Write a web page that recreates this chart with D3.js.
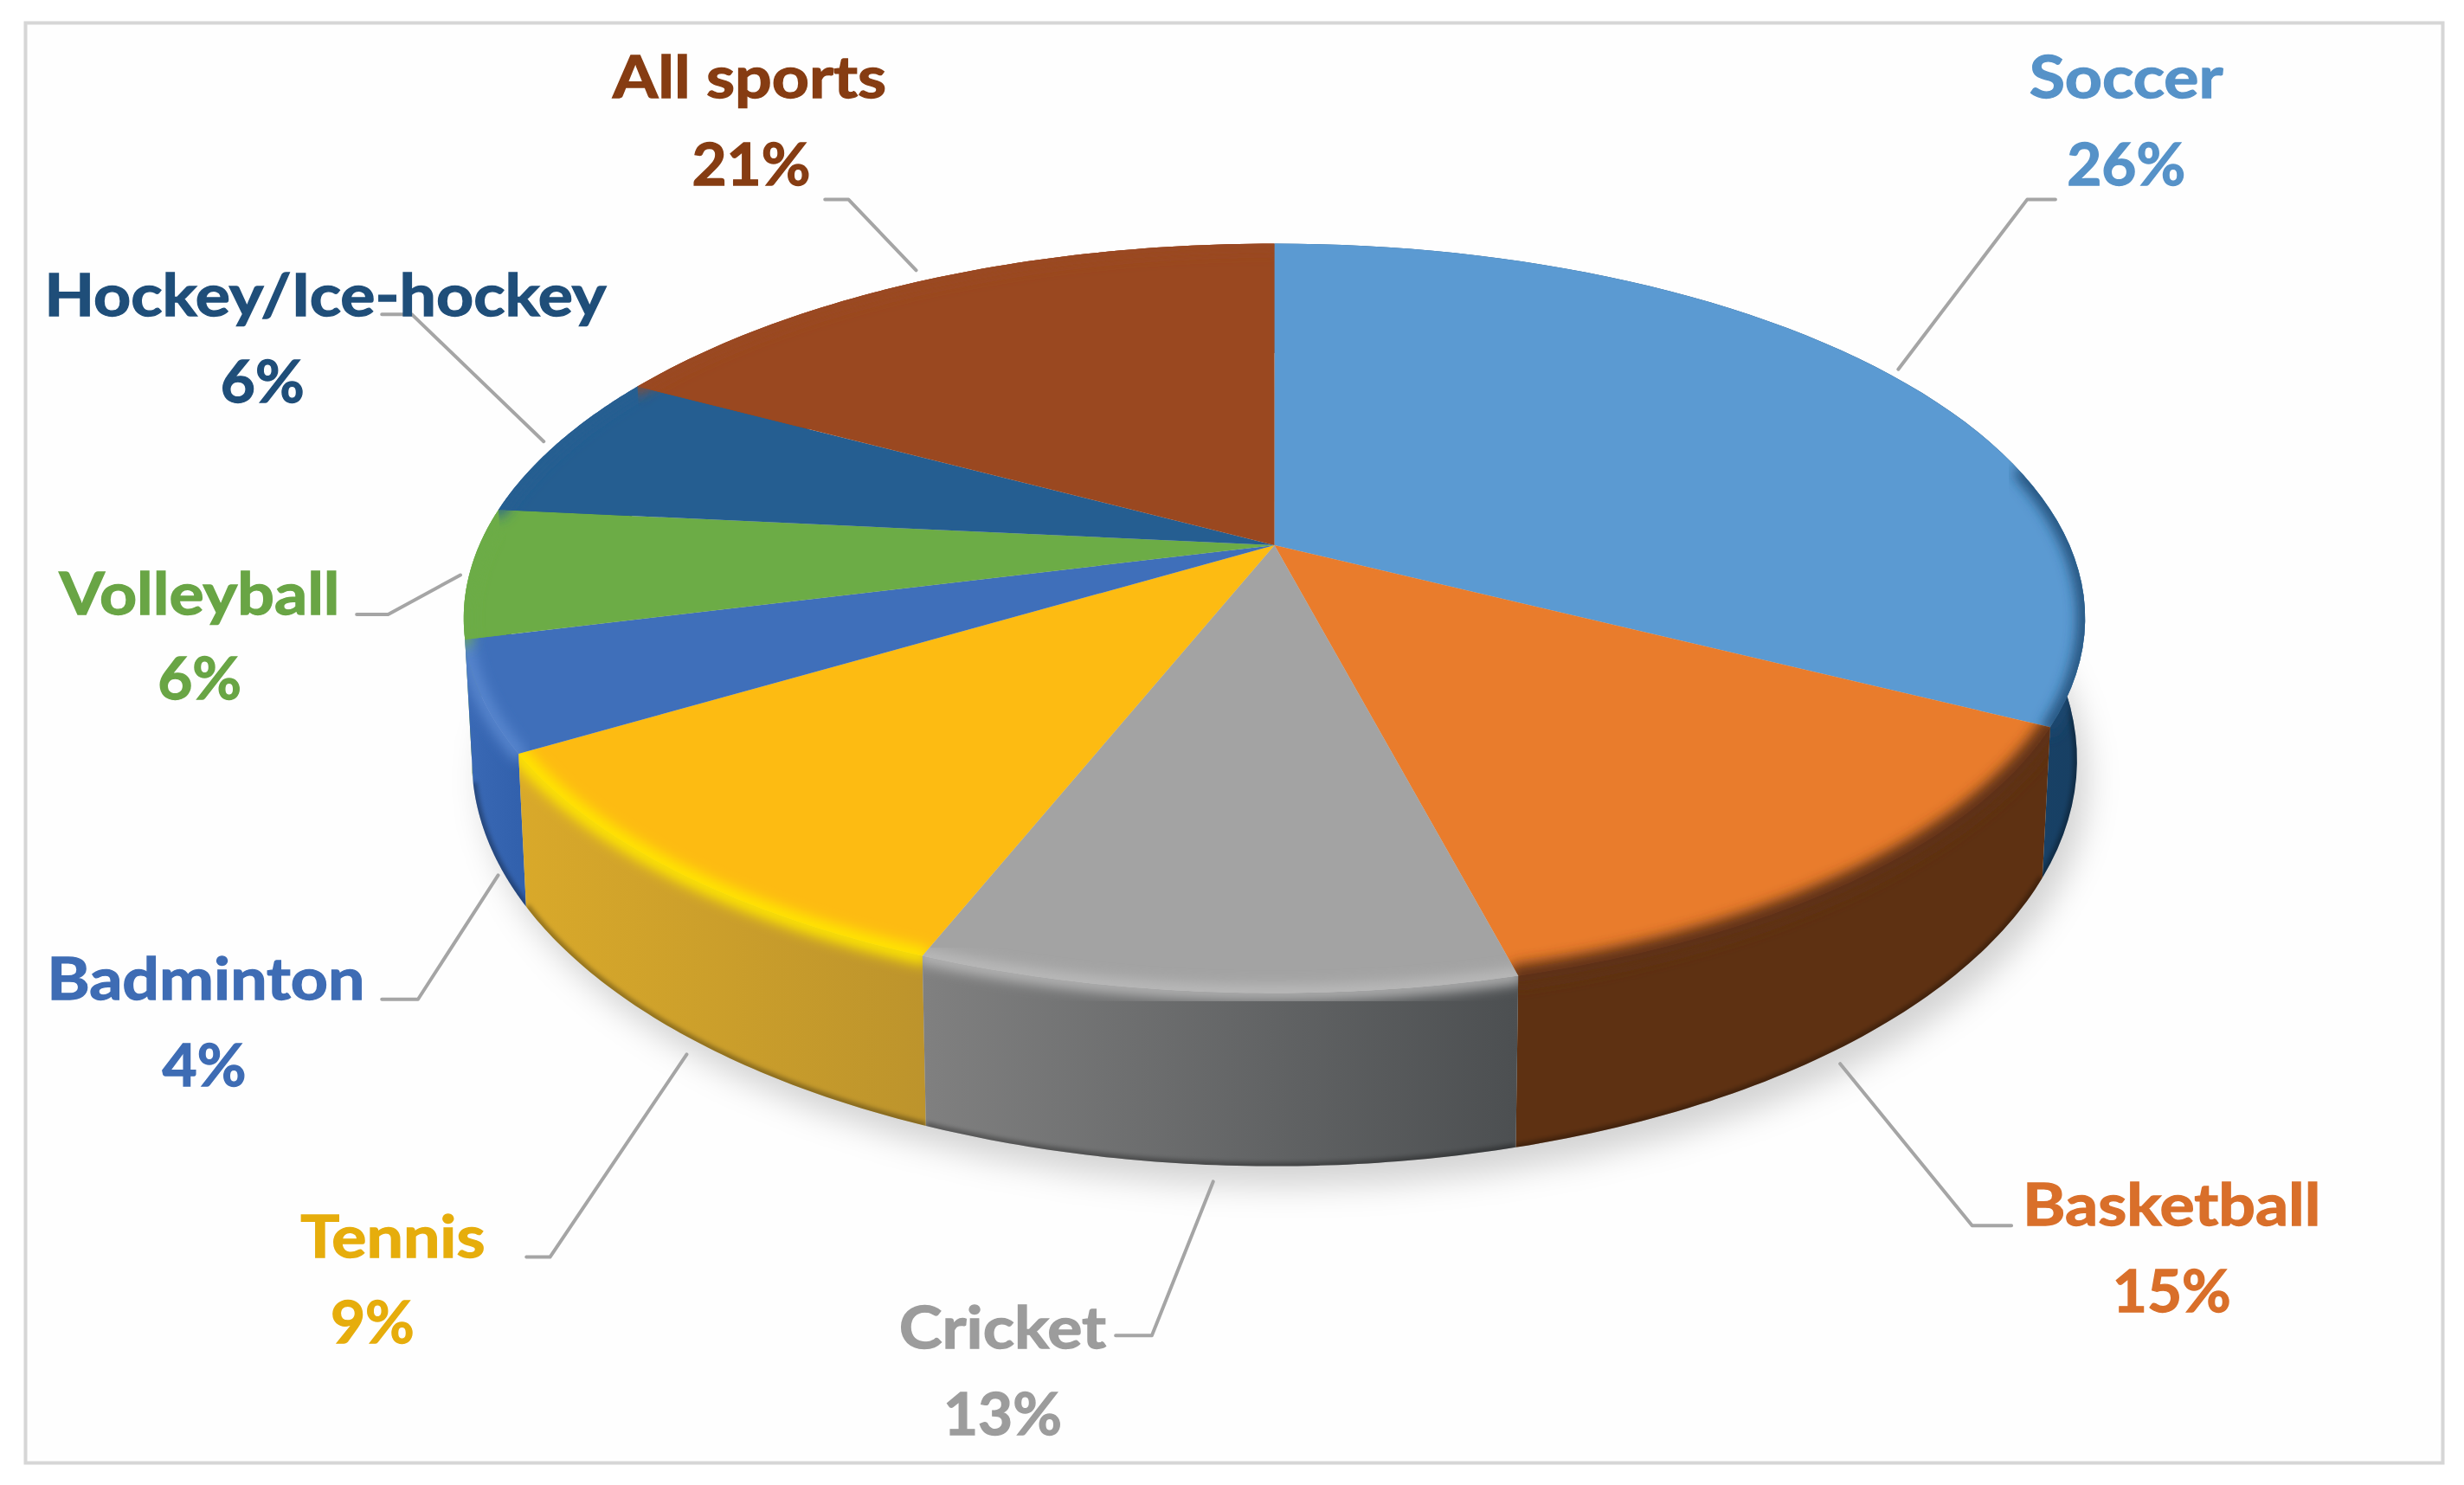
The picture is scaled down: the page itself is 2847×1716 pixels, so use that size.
<!DOCTYPE html>
<html>
<head>
<meta charset="utf-8">
<script src="https://cdn.jsdelivr.net/npm/d3@7"></script>
<style>
  html, body { margin: 0; padding: 0; background: #fff; }
  svg { display: block; }
  text { font-family: Lato, "Open Sans", sans-serif; font-weight: 700; text-anchor: middle; }
</style>
</head>
<body>
<div id="chart"></div>
<script>
var categories = ["Soccer", "Basketball", "Cricket", "Tennis", "Badminton", "Volleyball", "Hockey/Ice-hockey", "All sports"];
// printed labels
var percentLabels = [26, 15, 13, 9, 4, 6, 6, 21];
// share of the circle each slice really covers in the picture (differs from the printed labels)
var drawnShares = [32.6, 13.4, 9.9, 10.4, 4.7, 5.6, 6.4, 17.0];

var topColors = ["#5b9ad2", "#e97c2c", "#a3a3a3", "#fdbb12", "#3f6fba", "#6cac46", "#255e91", "#9a4820"];
var wallLeft = ["#2a5f8f", "#5e3112", "#808080", "#d9a92a", "#3a69b5", "#6cac46", "#255e91", "#9a4820"];
var wallRight = ["#173f63", "#5e3112", "#4c4f51", "#bd942c", "#3261ad", "#6cac46", "#255e91", "#9a4820"];
var rimColors = ["#1d4a72", "#5e3112", "#bcbcbc", "#ffe600", "#5a88d0", "#6cac46", "#255e91", "#9a4820"];
var rimWidths = [9, 14, 9, 11, 9, 9, 9, 9];
var textColors = ["#5692c8", "#d96f2a", "#9c9c9c", "#e6ad0c", "#3e6cb4", "#69a545", "#1f4e79", "#863c12"];

// label layout in the 1568-wide space of the picture
var nameAnchors = [[1353, 62], [1382, 780], [638, 858], [250, 800], [131, 636], [127, 391], [207, 201], [477, 62]];
var valueAnchors = [[1353, 118], [1382, 835], [638, 913], [237, 855], [130, 691], [127, 445], [167, 256], [478, 118]];
var leaders = [
  [[1308, 127], [1290, 127], [1208, 235]],
  [[1280, 780], [1255, 780], [1171, 677]],
  [[710, 850], [733, 850], [772, 752]],
  [[335, 800], [350, 800], [437, 671]],
  [[243, 636], [266, 636], [317, 557]],
  [[227, 391], [247, 391], [293, 366]],
  [[243, 200], [262, 200], [346, 281]],
  [[525, 127], [540, 127], [583, 172]]
];

var oal = 2847, tall = 1716, unit = oal / 1568;

// tilted disc: homography that maps the unit circle to the perspective ellipse
var cx = 811, cy = 347, tilt = 0.195, ax = 506, ay = 229.4;
// no rounded edge on the far side of the disc
var rimFrom = 78 * Math.PI / 180;

function project(angle, r, sx, sy, dy) {
  var u = Math.sin(angle) * r, v = -Math.cos(angle) * r, w = 1 - tilt * v;
  return [cx + sx * ax * u / w, cy + sy * ay * v / w + dy];
}
function topPoint(a, r) { return project(a, r === undefined ? 1 : r, 1, 1, 0); }
function floorPoint(a) { return project(a, 1, 0.99, 1.085, 86); }

function arcAngles(a0, a1) {
  return d3.range(0, 61).map(function (i) { return a0 + (a1 - a0) * i / 60; });
}
var line = d3.line();

function sectorPath(d) {
  return line([[cx, cy]].concat(arcAngles(d.startAngle, d.endAngle).map(function (a) { return topPoint(a); }))) + "Z";
}
function wallPath(d) {
  var angles = arcAngles(d.startAngle, d.endAngle);
  return line(angles.map(function (a) { return topPoint(a); }).concat(angles.slice().reverse().map(floorPoint))) + "Z";
}

var svg = d3.select("#chart").append("svg")
  .attr("width", oal)
  .attr("height", tall);

svg.append("rect").attr("width", oal).attr("height", tall).attr("fill", "#fff");
svg.append("rect")
  .attr("x", 29.5).attr("y", 26.5)
  .attr("width", 2793).attr("height", 1664)
  .attr("fill", "#fefefe")
  .attr("stroke", "#d6d6d6")
  .attr("stroke-width", 4);

var root = svg.append("g").attr("transform", "scale(" + unit + ")");
var defs = svg.append("defs");

[["blurShadow", 10], ["blurRim", 4], ["blurEdge", 1.6]].forEach(function (f) {
  defs.append("filter")
    .attr("id", f[0])
    .attr("x", "-20%").attr("y", "-20%").attr("width", "140%").attr("height", "140%")
    .append("feGaussianBlur").attr("stdDeviation", f[1]);
});

var slices = d3.pie().sort(null).value(function (d) { return d; })(drawnShares);
slices.forEach(function (d, i) {
  var xs = arcAngles(d.startAngle, d.endAngle).map(function (a) { return topPoint(a)[0]; });
  var grad = defs.append("linearGradient")
    .attr("id", "wall" + i)
    .attr("gradientUnits", "userSpaceOnUse")
    .attr("x1", d3.min(xs)).attr("x2", d3.max(xs))
    .attr("y1", 0).attr("y2", 0);
  grad.append("stop").attr("offset", "0%").attr("stop-color", wallLeft[i]);
  grad.append("stop").attr("offset", "100%").attr("stop-color", wallRight[i]);

  var clip = defs.append("clipPath").attr("id", "clip" + i);
  clip.append("path").attr("d", sectorPath(d));
  clip.append("path").attr("d", wallPath(d));

  defs.append("clipPath").attr("id", "wallClip" + i).append("path").attr("d", wallPath(d));
});

// soft shadow under the disc
root.append("path")
  .attr("d", line(arcAngles(0, 2 * Math.PI).map(floorPoint)) + "Z")
  .attr("transform", "translate(7,13)")
  .attr("fill", "#000")
  .attr("fill-opacity", 0.17)
  .attr("filter", "url(#blurShadow)");

// walls, far ones first
var byDepth = slices.map(function (d, i) { return { d: d, i: i }; })
  .sort(function (a, b) {
    return -Math.cos((a.d.startAngle + a.d.endAngle) / 2) - -Math.cos((b.d.startAngle + b.d.endAngle) / 2);
  });

byDepth.forEach(function (s) {
  root.append("path").attr("d", wallPath(s.d)).attr("fill", "url(#wall" + s.i + ")");
  root.append("g").attr("clip-path", "url(#wallClip" + s.i + ")")
    .append("path")
    .attr("d", line(arcAngles(s.d.startAngle, s.d.endAngle).map(floorPoint)))
    .attr("fill", "none")
    .attr("stroke", "#000")
    .attr("stroke-opacity", 0.3)
    .attr("stroke-width", 5)
    .attr("filter", "url(#blurEdge)");
});

// top face
root.selectAll(".slice")
  .data(slices)
  .enter()
  .append("path")
  .attr("class", "slice")
  .attr("d", sectorPath)
  .attr("fill", function (d, i) { return topColors[i]; });

// rounded edge between top face and wall
slices.forEach(function (d, i) {
  var from = Math.max(d.startAngle, rimFrom);
  if (from >= d.endAngle) return;
  root.append("g").attr("clip-path", "url(#clip" + i + ")")
    .append("path")
    .attr("d", line(arcAngles(from, d.endAngle).map(function (a) { return topPoint(a); })))
    .attr("fill", "none")
    .attr("stroke", rimColors[i])
    .attr("stroke-width", rimWidths[i])
    .attr("stroke-linecap", "round")
    .attr("filter", "url(#blurRim)");
});

// leader lines
root.selectAll(".leader")
  .data(leaders)
  .enter()
  .append("path")
  .attr("class", "leader")
  .attr("d", function (d) { return line(d); })
  .attr("fill", "none")
  .attr("stroke", "#a5a5a5")
  .attr("stroke-width", 2.2)
  .attr("stroke-linecap", "round")
  .attr("stroke-linejoin", "round");

// labels: the originals are a wide, heavy face, so widen and thicken Lato a little
function addLabel(x, y, str, color, stretch) {
  var t = root.append("text")
    .attr("x", x).attr("y", y)
    .attr("font-size", 37)
    .attr("fill", color)
    .attr("stroke", color)
    .attr("stroke-width", 0.7)
    .text(str);
  t.attr("textLength", t.node().getComputedTextLength() * stretch)
    .attr("lengthAdjust", "spacingAndGlyphs");
}

categories.forEach(function (name, i) {
  addLabel(nameAnchors[i][0], nameAnchors[i][1], name, textColors[i], 1.12);
  addLabel(valueAnchors[i][0], valueAnchors[i][1], percentLabels[i] + "%", textColors[i], 1.03);
});
</script>
</body>
</html>
